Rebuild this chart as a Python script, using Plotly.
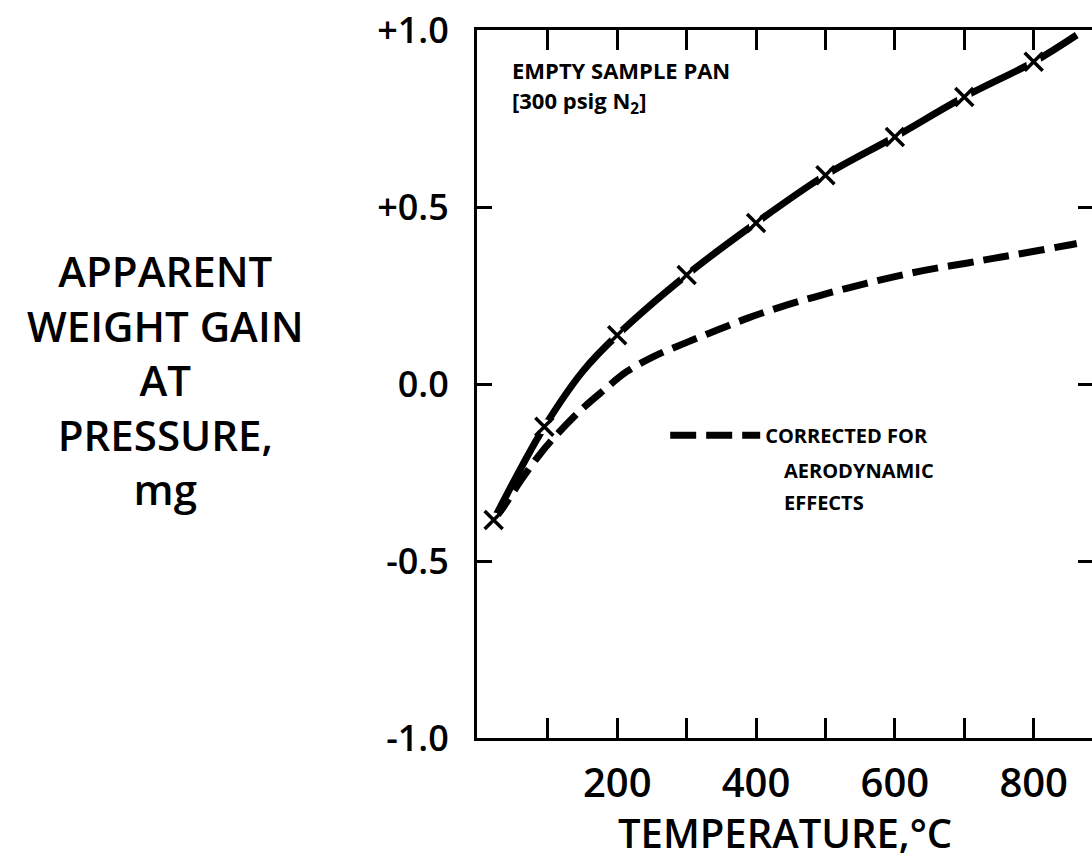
import plotly.graph_objects as go

# Empty sample pan run at 300 psig N2: apparent weight change vs temperature
temp_measured = [22, 62, 95, 150, 200, 300, 400, 500, 600, 700, 800, 862]
gain_measured = [-0.384, -0.235, -0.121, 0.035, 0.138, 0.308, 0.455, 0.590, 0.698, 0.811, 0.910, 0.986]

# Points that carry the x symbols
temp_points = [22, 95, 200, 300, 400, 500, 600, 700, 800]
gain_points = [-0.384, -0.121, 0.138, 0.308, 0.455, 0.590, 0.698, 0.811, 0.910]

# Curve after correcting for aerodynamic effects
temp_corrected = [22, 37, 62, 86, 105, 148, 181, 213, 253, 302, 345, 388, 436, 483,
                  532, 575, 620, 662, 705, 742, 781, 849, 862]
gain_corrected = [-0.384, -0.345, -0.27, -0.205, -0.16, -0.073, -0.017, 0.034, 0.078,
                  0.119, 0.153, 0.186, 0.218, 0.245, 0.271, 0.292, 0.312, 0.328,
                  0.342, 0.355, 0.368, 0.392, 0.397]

x_major = [200, 400, 600, 800]
x_major_text = ["200", "400", "600", "800"]
x_minor = [100, 300, 500, 700]
y_ticks = [1.0, 0.5, 0.0, -0.5, -1.0]
y_tick_text = ["+1.0", "+0.5", "0.0", "-0.5", "-1.0"]
y_right_ticks = [0.5, 0.0, -0.5]

FONT = "Open Sans"
INK = "black"
X_RANGE = [-2, 884]
Y_RANGE = [-1.0, 1.0]

fig = go.Figure()

fig.add_trace(go.Scatter(
    x=temp_corrected, y=gain_corrected, mode="lines", line_shape="spline",
    line=dict(color=INK, width=7, dash="26px,10px"),
    name="CORRECTED FOR", showlegend=True, hoverinfo="skip",
))
fig.add_trace(go.Scatter(
    x=temp_measured, y=gain_measured, mode="lines", line_shape="spline",
    line=dict(color=INK, width=7), showlegend=False, hoverinfo="skip",
))
# white knock-outs so the line breaks where each symbol sits
fig.add_trace(go.Scatter(
    x=temp_points, y=gain_points, mode="markers",
    marker=dict(symbol="circle", size=15, color="white", line=dict(width=0)),
    showlegend=False, hoverinfo="skip",
))
fig.add_trace(go.Scatter(
    x=temp_points, y=gain_points, mode="markers",
    marker=dict(symbol="x-thin-open", size=18, color=INK, line=dict(width=3.5, color=INK)),
    showlegend=False, hoverinfo="skip",
))
# empty trace that carries the right-hand tick axis
fig.add_trace(go.Scatter(x=[], y=[], yaxis="y2", showlegend=False, hoverinfo="skip"))

fig.add_annotation(x=46, y=0.887, xref="x", yref="y", text="EMPTY SAMPLE PAN",
                   showarrow=False, xanchor="left", yanchor="middle",
                   font=dict(family=FONT, size=22, color=INK, weight="bold"))
fig.add_annotation(x=46, y=0.797, xref="x", yref="y", text="[300 psig N<sub>2</sub>]",
                   showarrow=False, xanchor="left", yanchor="middle",
                   font=dict(family=FONT, size=22, color=INK, weight="bold"))

# continuation lines of the legend entry
fig.add_annotation(x=438, y=-0.245, xref="x", yref="y", text="AERODYNAMIC",
                   showarrow=False, xanchor="left", yanchor="middle",
                   font=dict(family=FONT, size=20, color=INK, weight="bold"))
fig.add_annotation(x=438, y=-0.335, xref="x", yref="y", text="EFFECTS",
                   showarrow=False, xanchor="left", yanchor="middle",
                   font=dict(family=FONT, size=20, color=INK, weight="bold"))

fig.add_annotation(x=-0.507, y=0.506, xref="paper", yref="paper",
                   text="APPARENT<br>WEIGHT GAIN<br>AT<br>PRESSURE,<br>mg",
                   showarrow=False, xanchor="center", yanchor="middle", align="center",
                   font=dict(family=FONT, size=42, color=INK, weight=600))
fig.add_annotation(x=0.5, y=-0.134, xref="paper", yref="paper",
                   text="TEMPERATURE,°C", showarrow=False,
                   xanchor="center", yanchor="middle",
                   font=dict(family=FONT, size=40, color=INK, weight=600))

fig.update_layout(
    width=1092, height=860,
    margin=dict(l=477, r=0, t=30, b=122),
    paper_bgcolor="white", plot_bgcolor="white",
    showlegend=True,
    legend=dict(x=0.306, y=0.455, xanchor="left", yanchor="top", valign="top",
                itemwidth=90, bgcolor="rgba(0,0,0,0)",
                font=dict(family=FONT, size=20, color=INK, weight="bold")),
    xaxis=dict(range=X_RANGE, showgrid=False, zeroline=False,
               showline=True, linecolor=INK, linewidth=3, mirror="allticks",
               tickmode="array", tickvals=x_major, ticktext=x_major_text,
               ticks="inside", ticklen=20, tickwidth=3, tickcolor=INK,
               minor=dict(tickmode="array", tickvals=x_minor,
                          ticks="inside", ticklen=13, tickwidth=3, tickcolor=INK),
               ticklabelstandoff=8,
               tickfont=dict(family=FONT, size=40, color=INK, weight=600)),
    yaxis=dict(range=Y_RANGE, showgrid=False, zeroline=False,
               showline=True, linecolor=INK, linewidth=3,
               tickmode="array", tickvals=y_ticks, ticktext=y_tick_text,
               ticks="inside", ticklen=15, tickwidth=3, tickcolor=INK,
               ticklabelstandoff=18,
               tickfont=dict(family=FONT, size=36, color=INK, weight=600)),
    yaxis2=dict(range=Y_RANGE, overlaying="y", anchor="x", side="right",
                showgrid=False, zeroline=False, showline=False,
                tickmode="array", tickvals=y_right_ticks, showticklabels=False,
                ticks="inside", ticklen=14, tickwidth=3, tickcolor=INK),
)

fig.write_html("out.html")
